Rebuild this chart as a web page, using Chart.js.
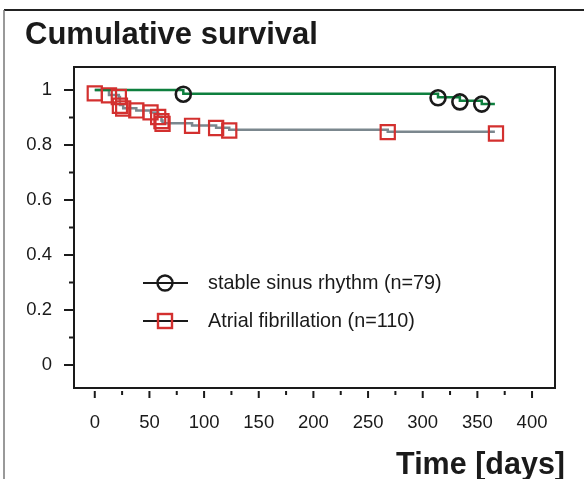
<!DOCTYPE html>
<html>
<head>
<meta charset="utf-8">
<script src="https://cdn.jsdelivr.net/npm/chart.js@4.4.1/dist/chart.umd.min.js"></script>
<style>
  html, body { margin: 0; padding: 0; background: #fff; }
  #wrap { width: 584px; height: 479px; }
</style>
</head>
<body>
<div id="wrap"><canvas id="graph" width="584" height="479"></canvas></div>
<script>
// stable sinus rhythm: step curve + circle marks
var srDays = [0, 81, 314, 334, 354, 366];
var srSurvival = [1.0, 0.987, 0.974, 0.961, 0.949, 0.949];
var srMarkDays = [81, 314, 334, 354];
var srMarkSurvival = [0.985, 0.972, 0.957, 0.949];

// atrial fibrillation: step curve + square marks
var afDays = [0, 13, 22, 23, 26, 38, 51, 58, 61, 62, 89, 111, 123, 268, 366];
var afSurvival = [1.0, 0.982, 0.975, 0.946, 0.934, 0.926, 0.918, 0.903, 0.889, 0.879, 0.871, 0.863, 0.856, 0.848, 0.848];
var afMarkDays = [0, 13, 22, 23, 26, 38, 51, 58, 61, 62, 89, 111, 123, 268, 367];
var afMarkSurvival = [0.988, 0.981, 0.975, 0.943, 0.933, 0.926, 0.919, 0.902, 0.887, 0.877, 0.87, 0.862, 0.853, 0.847, 0.842];

var seriesLabels = ['stable sinus rhythm (n=79)', 'Atrial fibrillation (n=110)'];

var xTicks = [0, 50, 100, 150, 200, 250, 300, 350, 400];
var xMinorTicks = [25, 75, 125, 175, 225, 275, 325, 375];
var yTicks = [0, 0.2, 0.4, 0.6, 0.8, 1];
var yTickLabels = ['0', '0.2', '0.4', '0.6', '0.8', '1'];
var yMinorTicks = [0.1, 0.3, 0.5, 0.7, 0.9];

var GREEN = '#0e7f3e';
var GREY = '#7b878e';
var RED = '#d3302f';
var INK = '#1a1a1a';
var FONT = '"Liberation Sans", Arial, Helvetica, sans-serif';

function toPoints(xs, ys) {
    var pts = [];
    for (var i = 0; i < xs.length; i++) {
        pts.push({x: xs[i], y: ys[i]});
    }
    return pts;
}

var decorPlugin = {
    id: 'decor',
    beforeDraw: function (chart) {
        var ctx = chart.ctx;
        ctx.save();
        ctx.fillStyle = '#fff';
        ctx.fillRect(0, 0, chart.width, chart.height);
        // outer frame (top + left only, the rest is cut off)
        ctx.lineWidth = 2;
        ctx.strokeStyle = '#222';
        ctx.beginPath();
        ctx.moveTo(584, 10);
        ctx.lineTo(4, 10);
        ctx.stroke();
        ctx.beginPath();
        ctx.lineWidth = 1.5;
        ctx.strokeStyle = '#777';
        ctx.moveTo(4, 10);
        ctx.lineTo(4, 479);
        ctx.stroke();
        ctx.restore();
    },
    afterDraw: function (chart) {
        var ctx = chart.ctx;
        var area = chart.chartArea;
        var xs = chart.scales.x;
        var ys = chart.scales.y;
        ctx.save();

        // plot frame
        ctx.strokeStyle = INK;
        ctx.lineWidth = 2;
        ctx.strokeRect(area.left, area.top, area.right - area.left, area.bottom - area.top);

        // tick marks
        ctx.beginPath();
        yTicks.forEach(function (v) {
            var py = ys.getPixelForValue(v);
            ctx.moveTo(area.left - 10, py);
            ctx.lineTo(area.left, py);
        });
        yMinorTicks.forEach(function (v) {
            var py = ys.getPixelForValue(v);
            ctx.moveTo(area.left - 5, py);
            ctx.lineTo(area.left, py);
        });
        xTicks.forEach(function (v) {
            var px = xs.getPixelForValue(v);
            ctx.moveTo(px, area.bottom + 3);
            ctx.lineTo(px, area.bottom + 10);
        });
        xMinorTicks.forEach(function (v) {
            var px = xs.getPixelForValue(v);
            ctx.moveTo(px, area.bottom + 3);
            ctx.lineTo(px, area.bottom + 7);
        });
        ctx.stroke();

        // titles
        ctx.fillStyle = INK;
        ctx.textBaseline = 'alphabetic';
        ctx.textAlign = 'left';
        ctx.font = 'bold 31px ' + FONT;
        ctx.fillText('Cumulative survival', 25, 44);
        ctx.textAlign = 'right';
        ctx.font = 'bold 30.5px ' + FONT;
        ctx.fillText('Time [days]', 565, 474);

        // legend
        var rows = [283, 321];
        ctx.font = '19.8px ' + FONT;
        ctx.textAlign = 'left';
        ctx.textBaseline = 'middle';
        for (var i = 0; i < rows.length; i++) {
            var y = rows[i];
            ctx.strokeStyle = INK;
            ctx.lineWidth = 2;
            ctx.beginPath();
            ctx.moveTo(143, y);
            ctx.lineTo(188, y);
            ctx.stroke();
            ctx.lineWidth = 2.4;
            if (i === 0) {
                ctx.strokeStyle = INK;
                ctx.beginPath();
                ctx.arc(165, y, 7.5, 0, Math.PI * 2);
                ctx.stroke();
            } else {
                ctx.strokeStyle = RED;
                ctx.strokeRect(158, y - 7, 14, 14);
            }
            ctx.fillStyle = INK;
            ctx.fillText(seriesLabels[i], 208, y + 1);
        }
        ctx.restore();
    }
};

new Chart(document.getElementById('graph'), {
    type: 'scatter',
    data: {
        datasets: [
            {
                label: seriesLabels[1] + ' marks',
                data: toPoints(afMarkDays, afMarkSurvival),
                pointStyle: 'rect',
                pointRadius: 10,
                pointBorderWidth: 2.2,
                borderColor: RED,
                backgroundColor: 'rgba(0,0,0,0)',
                showLine: false
            },
            {
                label: seriesLabels[0] + ' marks',
                data: toPoints(srMarkDays, srMarkSurvival),
                pointStyle: 'circle',
                pointRadius: 7.5,
                pointBorderWidth: 2.6,
                borderColor: INK,
                backgroundColor: 'rgba(0,0,0,0)',
                showLine: false
            },
            {
                label: seriesLabels[0],
                data: toPoints(srDays, srSurvival),
                showLine: true,
                stepped: true,
                borderColor: GREEN,
                borderWidth: 2.5,
                pointRadius: 0,
                fill: false
            },
            {
                label: seriesLabels[1],
                data: toPoints(afDays, afSurvival),
                showLine: true,
                stepped: true,
                borderColor: GREY,
                borderWidth: 2.5,
                pointRadius: 0,
                fill: false
            }
        ]
    },
    options: {
        responsive: false,
        animation: false,
        devicePixelRatio: 1,
        layout: {
            padding: {left: 4, right: 29, top: 67, bottom: 0}
        },
        plugins: {
            legend: {display: false},
            tooltip: {enabled: false},
            title: {display: false}
        },
        scales: {
            x: {
                type: 'linear',
                min: -19,
                max: 421,
                grid: {display: false, drawTicks: false},
                border: {display: false},
                afterBuildTicks: function (scale) {
                    scale.ticks = xTicks.map(function (v) { return {value: v}; });
                },
                afterFit: function (scale) {
                    scale.height = 91;
                },
                ticks: {
                    padding: 24,
                    color: INK,
                    font: {family: FONT, size: 18.5},
                    maxRotation: 0,
                    autoSkip: false
                }
            },
            y: {
                type: 'linear',
                min: -0.084,
                max: 1.084,
                grid: {display: false, drawTicks: false},
                border: {display: false},
                afterBuildTicks: function (scale) {
                    scale.ticks = yTicks.map(function (v) { return {value: v}; });
                },
                afterFit: function (scale) {
                    scale.width = 70;
                },
                ticks: {
                    padding: 22,
                    color: INK,
                    font: {family: FONT, size: 18.5},
                    autoSkip: false,
                    callback: function (value, index) {
                        return yTickLabels[index];
                    }
                }
            }
        }
    },
    plugins: [decorPlugin]
});
</script>
</body>
</html>
